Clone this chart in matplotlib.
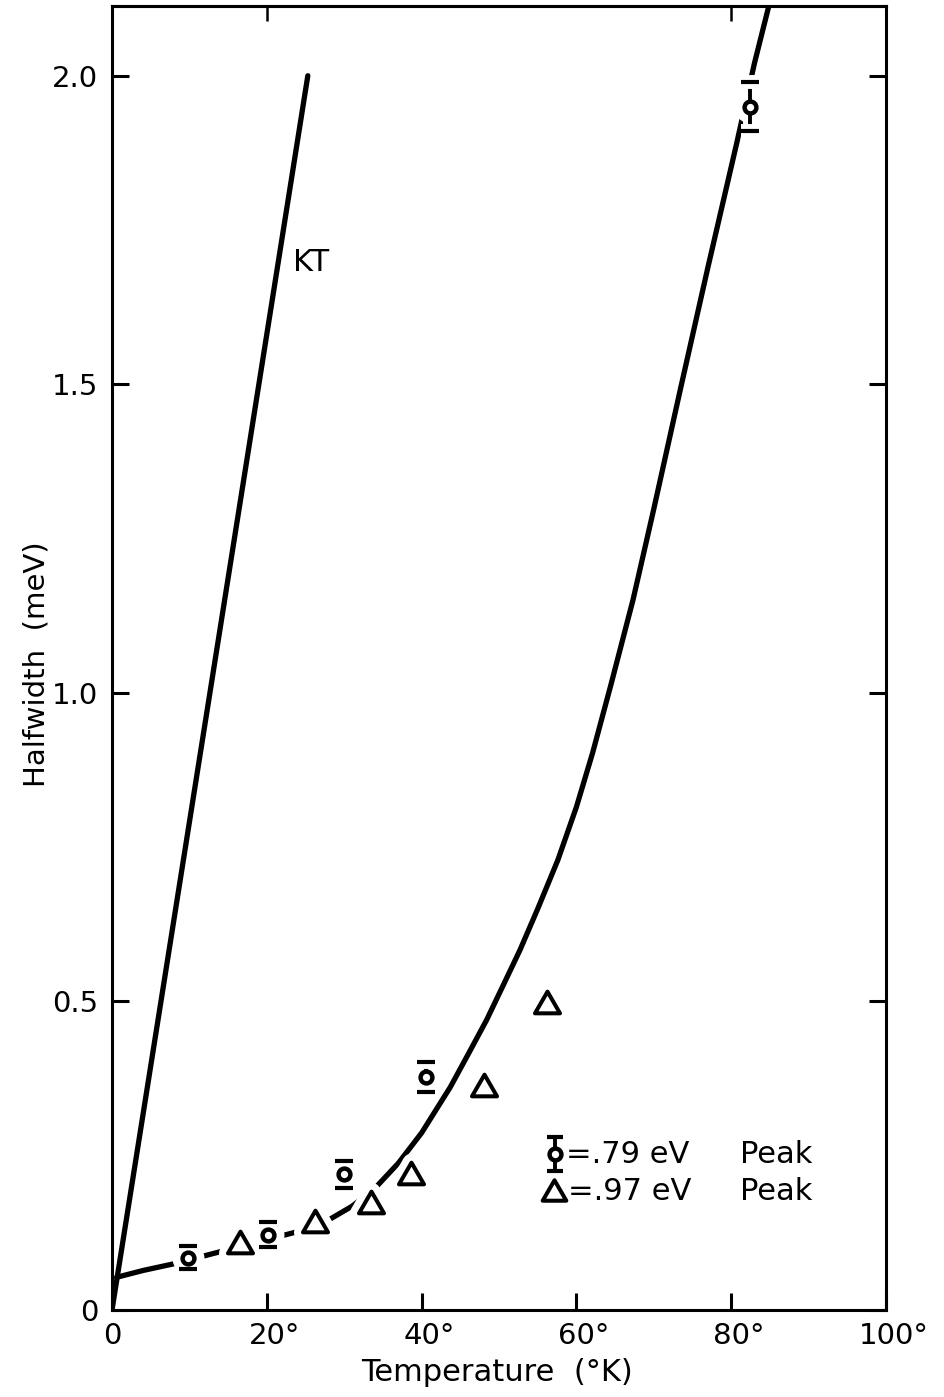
import matplotlib
matplotlib.use("Agg")
import matplotlib.pyplot as plt
import matplotlib.patheffects as pe
from matplotlib.transforms import ScaledTranslation
from matplotlib.path import Path

plt.rcParams['font.family'] = ['DejaVu Sans']

# ---- data ----
x_ticks = [0, 20, 40, 60, 80, 100]
x_ticklabels = ["0", "20°", "40°", "60°", "80°", "100°"]
y_ticks = [0, 0.5, 1.0, 1.5, 2.0]
y_ticklabels = ["0", "0.5", "1.0", "1.5", "2.0"]

kt_T = [0, 25.3]
kt_w = [0, 2.0]

curve_T = [0.6, 4, 8.4, 12, 16, 20, 24, 26, 28, 31, 33.8, 37, 40, 43.7,
           46, 48.4, 50.5, 52.7, 55, 57.6, 60, 62.1, 64.5, 67.3, 70, 73.4,
           77, 80.7, 83, 85.2]
curve_w = [0.053, 0.064, 0.076, 0.088, 0.101, 0.114, 0.127, 0.135, 0.146,
           0.168, 0.195, 0.238, 0.287, 0.361, 0.414, 0.47, 0.525, 0.583,
           0.650, 0.729, 0.815, 0.903, 1.015, 1.150, 1.298, 1.490, 1.690,
           1.890, 2.020, 2.130]

peak79_T = [9.8, 20.1, 30.0, 40.6, 82.4]
peak79_w = [0.085, 0.122, 0.220, 0.378, 1.950]
peak79_err = [0.019, 0.020, 0.022, 0.024, 0.040]

peak97_T = [16.5, 26.2, 33.5, 38.6, 48.1, 56.2]
peak97_w = [0.110, 0.145, 0.175, 0.222, 0.365, 0.499]

# ---- figure ----
fig = plt.figure(figsize=(9.45, 13.97), dpi=100)
ax = fig.add_axes([112/945, 87/1397, 774/945, 1304/1397])
ax.set_xlim(0, 100)
ax.set_ylim(0, 2.113)

tri = Path([(-1, -0.866), (1, -0.866), (0, 0.866), (-1, -0.866)],
           [Path.MOVETO, Path.LINETO, Path.LINETO, Path.CLOSEPOLY])

lw = 3.8
ax.plot(kt_T, kt_w, color='black', lw=lw, solid_capstyle='round', zorder=2)
ax.plot(curve_T, curve_w, color='black', lw=lw, solid_capstyle='round',
        solid_joinstyle='round', zorder=2)

# white halos producing the gaps in the curve around the symbols
ax.plot(peak79_T, peak79_w, ls='none', marker='o', ms=22, mfc='white',
        mec='white', zorder=3)
ax.plot(peak97_T, peak97_w, ls='none', marker=tri, ms=18, mfc='white',
        mec='white', mew=13, zorder=3)

eb = ax.errorbar(peak79_T, peak79_w, yerr=peak79_err, fmt='none',
                 ecolor='black', elinewidth=2.8, capsize=6.5, capthick=3.0,
                 zorder=4)
halo = [pe.Stroke(linewidth=10, foreground='white'), pe.Normal()]
for cl in eb[1]:
    cl.set_path_effects(halo)
for lc in eb[2]:
    lc.set_path_effects(halo)

ax.plot(peak79_T, peak79_w, ls='none', marker='o', ms=8.5, mfc='white',
        mec='black', mew=3.2, zorder=5)
ax.plot(peak97_T, peak97_w, ls='none', marker=tri, ms=18, mfc='white',
        mec='black', mew=2.9, zorder=5)

ax.text(23.4, 1.697, "KT", fontsize=22, ha='left', va='center')

# legend drawn by hand
ta = ax.transAxes
ax.errorbar([0.572], [0.1195], yerr=[0.0128], fmt='none', ecolor='black',
            elinewidth=2.8, capsize=6, capthick=3.0, transform=ta, zorder=4,
            clip_on=False)
ax.plot([0.572], [0.1195], ls='none', marker='o', ms=8.5, mfc='white',
        mec='black', mew=3.2, transform=ta, zorder=5)
ax.plot([0.571], [0.092], ls='none', marker=tri, ms=17, mfc='white',
        mec='black', mew=2.9, transform=ta, zorder=5)
ax.text(0.586, 0.1195, "=.79 eV", fontsize=22, ha='left', va='center',
        transform=ta)
ax.text(0.812, 0.1195, "Peak", fontsize=22, ha='left', va='center',
        transform=ta)
ax.text(0.589, 0.091, "=.97 eV", fontsize=22, ha='left', va='center',
        transform=ta)
ax.text(0.812, 0.091, "Peak", fontsize=22, ha='left', va='center',
        transform=ta)

# axes styling
for s in ax.spines.values():
    s.set_linewidth(2.2)
ax.set_xticks(x_ticks)
ax.set_xticklabels(x_ticklabels, fontsize=21)
ax.set_yticks(y_ticks)
ax.set_yticklabels(y_ticklabels, fontsize=21)
ax.tick_params(axis='both', direction='in', length=12, width=2.2,
               right=True, top=False)
ax.tick_params(axis='x', pad=9)
ax.tick_params(axis='y', pad=10)

# top ticks only at 20 and 80
sec = ax.secondary_xaxis('top')
sec.set_xticks([20, 80])
sec.set_xticklabels([])
sec.tick_params(direction='in', length=11, width=1.8)
sec.spines['top'].set_linewidth(2.2)

off = ScaledTranslation(0.075, 0, fig.dpi_scale_trans)
for lab in ax.get_xticklabels():
    if "°" in lab.get_text():
        lab.set_transform(lab.get_transform() + off)

ax.set_xlabel("Temperature  (°K)", fontsize=22)
ax.xaxis.set_label_coords(0.497, -0.037)
ax.set_ylabel("Halfwidth  (meV)", fontsize=21)
ax.yaxis.set_label_coords(-0.08, 0.495)

fig.savefig("out.png", dpi=100)
